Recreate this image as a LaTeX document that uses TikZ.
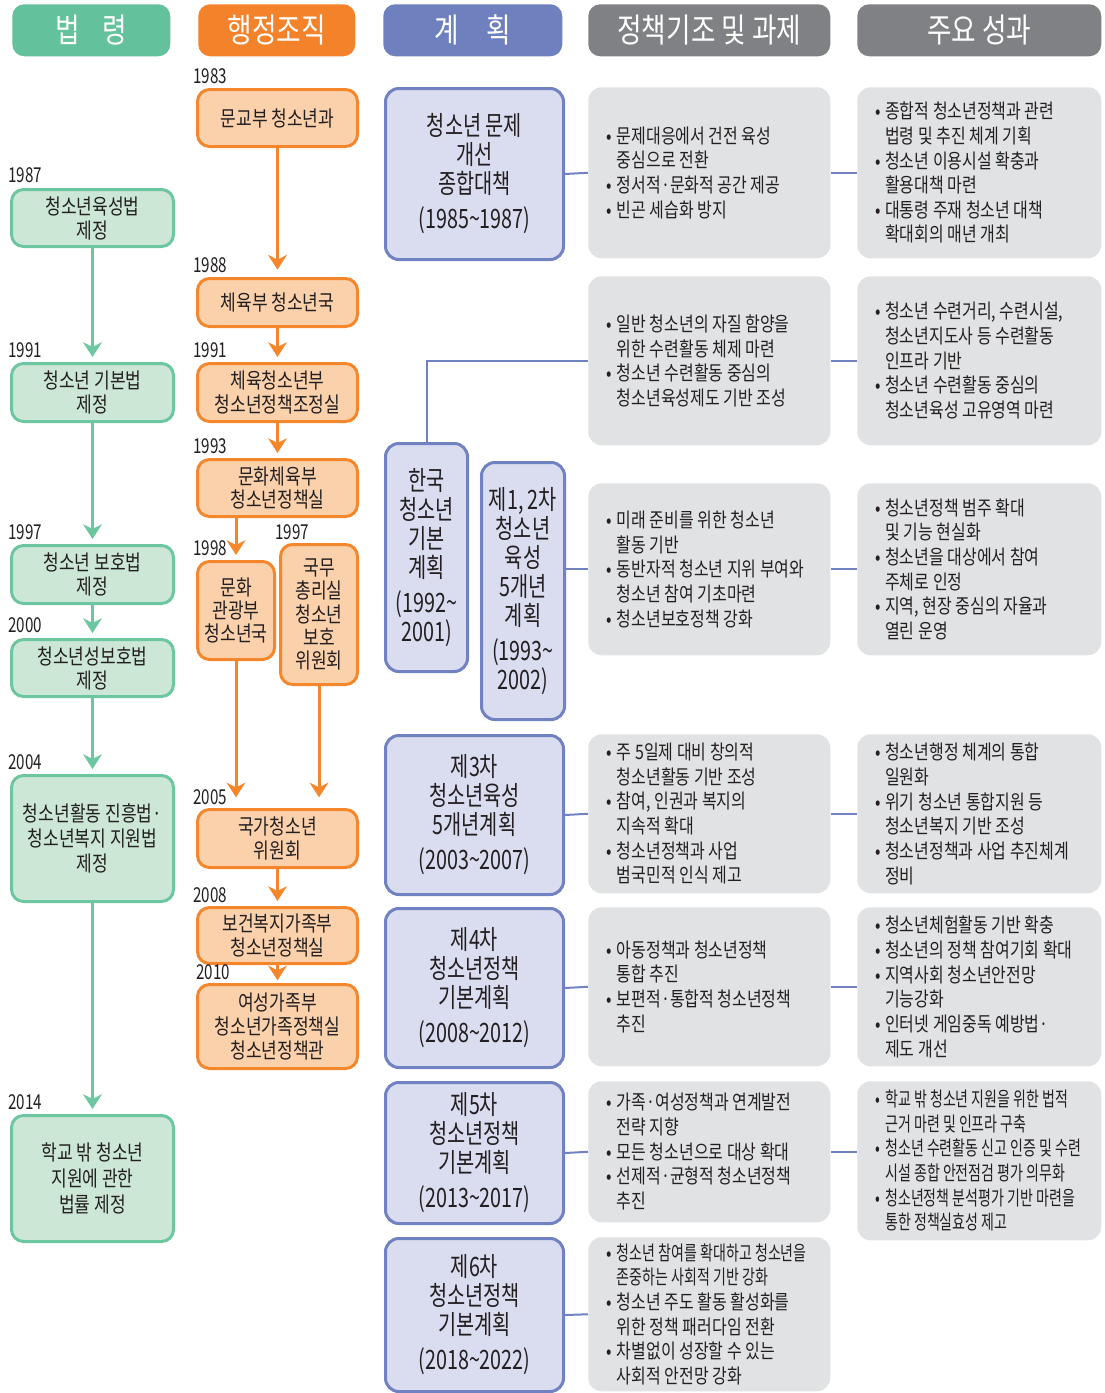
\documentclass[tikz,border=0pt]{standalone}
\usepackage{fontspec}
\setmainfont{Noto Sans CJK KR}[FakeStretch=0.8]
\newfontfamily\krtight{Noto Sans CJK KR}[FakeStretch=0.7]
\newfontfamily\krplan{Noto Sans CJK KR}[FakeStretch=0.74]
\usetikzlibrary{arrows.meta,calc}
\definecolor{hgreen}{HTML}{63C29B}
\definecolor{bgreen}{HTML}{6CC6A0}
\definecolor{fgreen}{HTML}{CCE7D6}
\definecolor{horange}{HTML}{F4822A}
\definecolor{borange}{HTML}{F4862B}
\definecolor{forange}{HTML}{FBD1AC}
\definecolor{hblue}{HTML}{6F80BF}
\definecolor{bblue}{HTML}{7082C1}
\definecolor{fblue}{HTML}{DADDF0}
\definecolor{hgray}{HTML}{808184}
\definecolor{fgray}{HTML}{E1E2E4}
\definecolor{ink}{HTML}{231F20}
\newcommand\tl{\textasciitilde}
\newcommand\bul{\makebox[7.5pt][l]{•}}
\newcommand\ind{\hspace*{7.5pt}}
\newcommand\boxat[6]{\node[#2, anchor=north west, minimum width={(#5-#3)*0.75pt}, minimum height={(#6-#4)*0.75pt}] (#1) at (#3,#4)}
\begin{document}
\begin{tikzpicture}[x=0.75pt,y=-0.75pt,
  hdr/.style={rounded corners=9pt, inner sep=0pt, text=white, font=\fontsize{25}{28}\selectfont},
  law/.style={draw=bgreen, fill=fgreen, line width=2.25pt, rounded corners=9pt, align=center, inner sep=0pt, text=ink, font=\fontsize{16}{18}\selectfont},
  org/.style={draw=borange, fill=forange, line width=2.25pt, rounded corners=9pt, align=center, inner sep=0pt, text=ink, font=\fontsize{16}{17.5}\selectfont},
  plan/.style={draw=bblue, fill=fblue, line width=2.25pt, rounded corners=10pt, align=center, inner sep=0pt, text=ink, font=\krplan\fontsize{20}{21.75}\selectfont},
  gbox/.style={fill=fgray, rounded corners=10pt, inner sep=0pt},
  ptext/.style={anchor=west, align=left, inner sep=0pt, text=ink, font=\fontsize{15}{18.5}\selectfont},
  yr/.style={anchor=base west, inner sep=0pt, text=ink, font=\krplan\fontsize{15.4}{16}\selectfont},
  garr/.style={draw=bgreen, line width=2.25pt, -{Stealth[length=11pt,width=14pt,inset=3.5pt]}, shorten >=3.75pt},
  oarr/.style={draw=borange, line width=2.25pt, -{Stealth[length=11pt,width=14pt,inset=3.5pt]}, shorten >=3.75pt},
  conn/.style={draw=bblue, line width=1.5pt}
]
\useasboundingbox (0,0) rectangle (1105,1393);

% headers
\boxat{h1}{hdr,fill=hgreen}{12}{4}{170}{56}{법\hspace{17pt}령};
\boxat{h2}{hdr,fill=horange}{198}{4}{355}{56}{행정조직};
\boxat{h3}{hdr,fill=hblue}{383}{4}{562}{56}{계\hspace{20pt}획};
\boxat{h4}{hdr,fill=hgray}{588}{4}{830}{56}{정책기조 및 과제};
\boxat{h5}{hdr,fill=hgray}{857}{4}{1101}{56}{주요 성과};

% law column
\boxat{law1}{law}{10}{188}{172}{245}{청소년육성법\\제정};
\boxat{law2}{law}{10}{362}{172}{420}{청소년 기본법\\제정};
\boxat{law3}{law}{10}{544}{172}{602}{청소년 보호법\\제정};
\boxat{law4}{law}{10}{638}{172}{695}{청소년성보호법\\제정};
\boxat{law5}{law,font=\fontsize{16}{19}\selectfont}{10}{774}{172}{900}{청소년활동 진흥법·\\청소년복지 지원법\\제정};
\boxat{law6}{law,font=\fontsize{16}{19.5}\selectfont}{10}{1114}{172}{1240}{학교 밖 청소년\\지원에 관한\\법률 제정};

\node[yr] (yl1) at (8,182) {1987};
\node[yr] (yl2) at (8,357) {1991};
\node[yr] (yl3) at (8,539) {1997};
\node[yr] (yl4) at (8,632) {2000};
\node[yr] (yl5) at (8,769) {2004};
\node[yr] (yl6) at (8,1109) {2014};

\draw[garr] (law1) -- (law2);
\draw[garr] (law2) -- (law3);
\draw[garr] (law3) -- (law4);
\draw[garr] (law4) -- (law5);
\draw[garr] (law5) -- (law6);

% organisation column
\boxat{org1}{org}{196}{88}{356}{145}{문교부 청소년과};
\boxat{org2}{org}{196}{277}{356}{325}{체육부 청소년국};
\boxat{org3}{org}{196}{362}{356}{420}{체육청소년부\\청소년정책조정실};
\boxat{org4}{org}{196}{458}{356}{515}{문화체육부\\청소년정책실};
\boxat{org5}{org}{196}{560}{273}{658}{문화\\관광부\\청소년국};
\boxat{org6}{org}{279}{543}{356}{683}{국무\\총리실\\청소년\\보호\\위원회};
\boxat{org7}{org}{196}{808}{356}{866}{국가청소년\\위원회};
\boxat{org8}{org}{196}{906}{356}{962}{보건복지가족부\\청소년정책실};
\boxat{org9}{org,font=\fontsize{16}{18}\selectfont}{196}{983}{356}{1067}{여성가족부\\청소년가족정책실\\청소년정책관};

\node[yr] (yo1) at (193,83) {1983};
\node[yr] (yo2) at (193,272) {1988};
\node[yr] (yo3) at (193,357) {1991};
\node[yr] (yo4) at (193,453) {1993};
\node[yr] (yo5) at (193,555) {1998};
\node[yr] (yo6) at (275,539) {1997};
\node[yr] (yo7) at (193,804) {2005};
\node[yr] (yo8) at (193,902) {2008};
\node[yr] (yo9) at (196,979) {2010};

\draw[oarr,shorten >=5.5pt] (org1) -- (org2);
\draw[oarr] (org2) -- (org3);
\draw[oarr] (org3) -- (org4);
\draw[oarr] (org4.south -| org5.north) -- (org5.north);
\draw[oarr,shorten >=8pt] (org5.south) -- (org5.south |- org7.north);
\draw[oarr,shorten >=8pt] (org6.south) -- (org6.south |- org7.north);
\draw[oarr] (org7) -- (org8);
\draw[oarr,shorten >=2pt] (org8) -- (org9);

% plan column
\boxat{plan1}{plan}{384}{87}{562}{258}{청소년 문제\\개선\\종합대책\\[4.5pt](1985\tl1987)};
\boxat{kbp}{plan}{384}{442}{466}{670}{한국\\청소년\\기본\\계획\\[4.5pt](1992\tl\\2001)};
\boxat{p12}{plan}{480}{461}{563}{718}{제1, 2차\\청소년\\육성\\5개년\\계획\\[4.5pt](1993\tl\\2002)};
\boxat{plan3}{plan}{384}{734}{562}{893}{제3차\\청소년육성\\5개년계획\\[4.5pt](2003\tl2007)};
\boxat{plan4}{plan}{384}{907}{562}{1066}{제4차\\청소년정책\\기본계획\\[4.5pt](2008\tl2012)};
\boxat{plan5}{plan}{384}{1081}{562}{1222}{제5차\\청소년정책\\기본계획\\[4.5pt](2013\tl2017)};
\boxat{plan6}{plan}{384}{1237}{562}{1390}{제6차\\청소년정책\\기본계획\\[4.5pt](2018\tl2022)};

% policy column
\boxat{pol1}{gbox}{588}{87}{830}{258}{};
\boxat{pol2}{gbox}{588}{276}{830}{445}{};
\boxat{pol3}{gbox}{588}{483}{830}{655}{};
\boxat{pol4}{gbox}{588}{734}{830}{893}{};
\boxat{pol5}{gbox}{588}{907}{830}{1066}{};
\boxat{pol6}{gbox}{588}{1081}{830}{1222}{};
\boxat{pol7}{gbox}{588}{1237}{830}{1391}{};

% achievement column
\boxat{ach1}{gbox}{857}{87}{1101}{258}{};
\boxat{ach2}{gbox}{857}{276}{1101}{445}{};
\boxat{ach3}{gbox}{857}{483}{1101}{655}{};
\boxat{ach4}{gbox}{857}{734}{1101}{893}{};
\boxat{ach5}{gbox}{857}{907}{1101}{1066}{};
\boxat{ach6}{gbox}{857}{1081}{1101}{1240}{};

\node[ptext] (pol1t) at ([xshift=14pt]pol1.west) {\bul 문제대응에서 건전 육성\\\ind 중심으로 전환\\\bul 정서적·문화적 공간 제공\\\bul 빈곤 세습화 방지};
\node[ptext] (pol2t) at ([xshift=14pt]pol2.west) {\bul 일반 청소년의 자질 함양을\\\ind 위한 수련활동 체제 마련\\\bul 청소년 수련활동 중심의\\\ind 청소년육성제도 기반 조성};
\node[ptext] (pol3t) at ([xshift=14pt]pol3.west) {\bul 미래 준비를 위한 청소년\\\ind 활동 기반\\\bul 동반자적 청소년 지위 부여와\\\ind 청소년 참여 기초마련\\\bul 청소년보호정책 강화};
\node[ptext] (pol4t) at ([xshift=14pt]pol4.west) {\bul 주 5일제 대비 창의적\\\ind 청소년활동 기반 조성\\\bul 참여, 인권과 복지의\\\ind 지속적 확대\\\bul 청소년정책과 사업\\\ind 범국민적 인식 제고};
\node[ptext] (pol5t) at ([xshift=14pt]pol5.west) {\bul 아동정책과 청소년정책\\\ind 통합 추진\\\bul 보편적·통합적 청소년정책\\\ind 추진};
\node[ptext] (pol6t) at ([xshift=14pt]pol6.west) {\bul 가족·여성정책과 연계발전\\\ind 전략 지향\\\bul 모든 청소년으로 대상 확대\\\bul 선제적·균형적 청소년정책\\\ind 추진};
\node[ptext] (pol7t) at ([xshift=14pt]pol7.west) {\bul {\krtight 청소년 참여를 확대하고 청소년을}\\\ind {\krtight 존중하는 사회적 기반 강화}\\\bul 청소년 주도 활동 활성화를\\\ind 위한 정책 패러다임 전환\\\bul 차별없이 성장할 수 있는\\\ind 사회적 안전망 강화};

\node[ptext] (ach1t) at ([xshift=13.5pt]ach1.west) {\bul 종합적 청소년정책과 관련\\\ind 법령 및 추진 체계 기획\\\bul 청소년 이용시설 확충과\\\ind 활용대책 마련\\\bul 대통령 주재 청소년 대책\\\ind 확대회의 매년 개최};
\node[ptext] (ach2t) at ([xshift=13.5pt]ach2.west) {\bul 청소년 수련거리, 수련시설,\\\ind 청소년지도사 등 수련활동\\\ind 인프라 기반\\\bul 청소년 수련활동 중심의\\\ind 청소년육성 고유영역 마련};
\node[ptext] (ach3t) at ([xshift=13.5pt]ach3.west) {\bul 청소년정책 범주 확대\\\ind 및 기능 현실화\\\bul 청소년을 대상에서 참여\\\ind 주체로 인정\\\bul 지역, 현장 중심의 자율과\\\ind 열린 운영};
\node[ptext] (ach4t) at ([xshift=13.5pt]ach4.west) {\bul 청소년행정 체계의 통합\\\ind 일원화\\\bul 위기 청소년 통합지원 등\\\ind 청소년복지 기반 조성\\\bul 청소년정책과 사업 추진체계\\\ind 정비};
\node[ptext] (ach5t) at ([xshift=13.5pt]ach5.west) {\bul 청소년체험활동 기반 확충\\\bul 청소년의 정책 참여기회 확대\\\bul 지역사회 청소년안전망\\\ind 기능강화\\\bul 인터넷 게임중독 예방법·\\\ind 제도 개선};
\node[ptext,font=\krtight\fontsize{15}{18.5}\selectfont] (ach6t) at ([xshift=13.5pt]ach6.west) {\bul 학교 밖 청소년 지원을 위한 법적\\\ind 근거 마련 및 인프라 구축\\\bul 청소년 수련활동 신고 인증 및 수련\\\ind 시설 종합 안전점검 평가 의무화\\\bul 청소년정책 분석평가 기반 마련을\\\ind 통한 정책실효성 제고};

% connectors
\draw[conn] (plan1.east) -- (pol1.west);
\draw[conn] (pol1.east) -- (ach1.west);
\draw[conn] (kbp.north) |- (pol2.west);
\draw[conn] (pol2.east) -- (ach2.west);
\draw[conn] (p12.east |- pol3.west) -- (pol3.west);
\draw[conn] (pol3.east) -- (ach3.west);
\draw[conn] (plan3.east) -- (pol4.west);
\draw[conn] (pol4.east) -- (ach4.west);
\draw[conn] (plan4.east) -- (pol5.west);
\draw[conn] (pol5.east) -- (ach5.west);
\draw[conn] (plan5.east) -- (pol6.west);
\draw[conn] (pol6.east) -- (pol6.east -| ach6.west);
\draw[conn] (plan6.east) -- (pol7.west);
\end{tikzpicture}
\end{document}
